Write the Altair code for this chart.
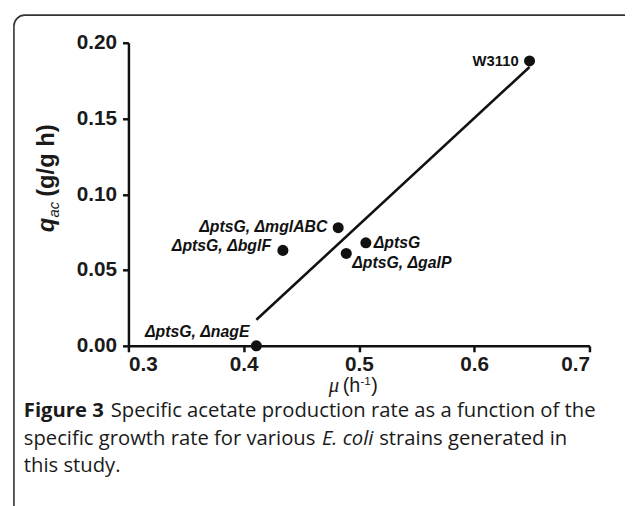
import altair as alt
import pandas as pd

# ---- data ----
strains = ["W3110", "ΔptsG", "ΔptsG, ΔgalP", "ΔptsG, ΔmglABC", "ΔptsG, ΔbglF", "ΔptsG, ΔnagE"]
mu = [0.648, 0.506, 0.489, 0.482, 0.434, 0.411]
q_ac = [0.188, 0.068, 0.061, 0.078, 0.063, 0.0]
x_ticks = [0.3, 0.4, 0.5, 0.6, 0.7]
y_ticks = [0.00, 0.05, 0.10, 0.15, 0.20]

df = pd.DataFrame({"strain": strains, "mu": mu, "q_ac": q_ac})
deco = pd.DataFrame({"k": [0]})

W, H = 467, 307
INK = "#111111"
SANS = "Liberation Sans"

xs = alt.Scale(domain=[0.3, 0.7], nice=False, zero=False)
ys = alt.Scale(domain=[0.0, 0.2], nice=False, zero=False)
axis_common = dict(title=None, grid=False, domainColor=INK, domainWidth=2.5,
                   tickColor=INK, tickWidth=2.5, tickSize=6,
                   labelFont=SANS, labelFontSize=21, labelFontWeight="bold",
                   labelColor="#1a1a1a")
xaxis = alt.Axis(values=x_ticks, format=".1f", labelPadding=2, **axis_common)
yaxis = alt.Axis(values=y_ticks, format=".2f", labelPadding=6, **axis_common)
x_enc = alt.X("mu:Q", scale=xs, axis=xaxis)
y_enc = alt.Y("q_ac:Q", scale=ys, axis=yaxis)

base = alt.Chart(df).encode(x=x_enc, y=y_enc)

line = (alt.Chart(df)
        .transform_regression("mu", "q_ac")
        .mark_line(color=INK, strokeWidth=2.6)
        .encode(x=x_enc, y=y_enc))

points = base.mark_circle(size=125, color=INK, opacity=1)

label_style = {
    "W3110": dict(align="right", dx=-11, dy=0, fontSize=15, fontStyle="normal"),
    "ΔptsG": dict(align="left", dx=8, dy=0, fontSize=16, fontStyle="italic"),
    "ΔptsG, ΔgalP": dict(align="left", dx=6, dy=10, fontSize=16, fontStyle="italic"),
    "ΔptsG, ΔmglABC": dict(align="right", dx=-11, dy=-1, fontSize=16, fontStyle="italic"),
    "ΔptsG, ΔbglF": dict(align="right", dx=-12, dy=-4, fontSize=16, fontStyle="italic"),
    "ΔptsG, ΔnagE": dict(align="right", dx=-7, dy=-14, fontSize=16, fontStyle="italic"),
}
labels = []
for name, st in label_style.items():
    labels.append(
        base.transform_filter(alt.datum.strain == name)
        .mark_text(font=SANS, fontWeight="bold", baseline="middle", color=INK, **st)
        .encode(text="strain:N")
    )

frame = (alt.Chart(deco)
         .mark_rect(fillOpacity=0, stroke="#333333", strokeWidth=1.6, cornerRadius=11)
         .encode(x=alt.value(-116), x2=alt.value(522), y=alt.value(-28), y2=alt.value(560)))

# text pieces: (text, x, y, font, size, weight, style, angle)
text_pieces = [
    # y axis title (rotated)
    ("q", -75, 192, SANS, 24, "bold", "italic", 270),
    ("ac", -70, 177, SANS, 15, "normal", "italic", 270),
    ("(g/g h)", -75, 156, SANS, 24, "bold", "normal", 270),
    # x axis title
    ("μ", 203, 354, "Liberation Serif", 21, "normal", "italic", 0),
    ("(h", 217, 354, SANS, 20, "normal", "normal", 0),
    ("-1", 235, 347, SANS, 12, "normal", "normal", 0),
    (")", 246, 354, SANS, 20, "normal", "normal", 0),
    # caption
    ("Figure 3", -106, 379, "Open Sans", 20.5, "bold", "normal", 0),
    ("Specific acetate production rate as a function of the", -18, 379, "Open Sans", 20.5, "normal", "normal", 0),
    ("specific growth rate for various", -106, 407, "Open Sans", 20.5, "normal", "normal", 0),
    ("E. coli", 196, 407, "Open Sans", 20.5, "normal", "italic", 0),
    ("strains generated in", 254, 407, "Open Sans", 20.5, "normal", "normal", 0),
    ("this study.", -106, 435, "Open Sans", 20.5, "normal", "normal", 0),
]
texts = []
for t, x, y, f, s, w, sty, ang in text_pieces:
    texts.append(
        alt.Chart(deco).mark_text(text=t, font=f, fontSize=s, fontWeight=w, fontStyle=sty,
                                  angle=ang, align="left", baseline="alphabetic", color="#1a1a1a")
        .encode(x=alt.value(x), y=alt.value(y))
    )

chart = (alt.layer(frame, line, points, *labels, *texts)
         .properties(width=W, height=H,
                     autosize=alt.AutoSizeParams(type="none"),
                     padding={"left": 122, "top": 32, "right": 36, "bottom": 159},
                     background="white")
         .configure_view(stroke="transparent"))

chart.save("out.html", embed_options={"renderer": "svg", "actions": False})
